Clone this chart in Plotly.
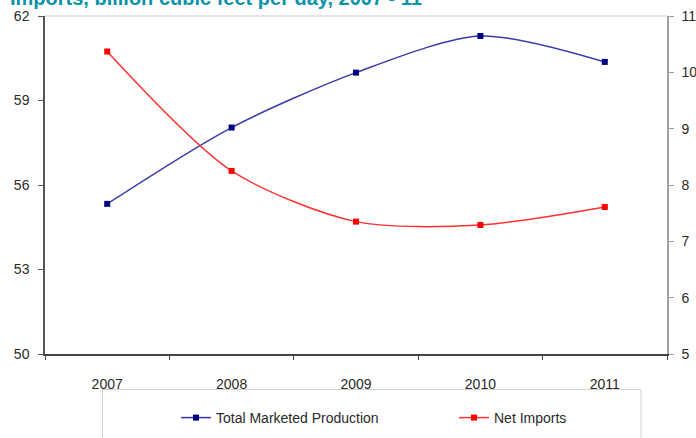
import plotly.graph_objects as go

years = ["2007", "2008", "2009", "2010", "2011"]
production = [55.33, 58.04, 59.99, 61.29, 60.37]
net_imports = [10.37, 8.25, 7.35, 7.29, 7.61]
left_ticks = [50, 53, 56, 59, 62]
right_ticks = [5, 6, 7, 8, 9, 10, 11]
title_text = "Imports, billion cubic feet per day, 2007 - 11"

W, H = 696, 438
ML, MR, MT, MB = 45, 29, 16, 84
PW, PH = W - ML - MR, H - MT - MB

def px_x(p):
    return (p - ML) / PW

def px_y(p):
    return (H - MB - p) / PH

FONT = "Liberation Sans, Arial, sans-serif"
TXT = "#2a2a2a"

fig = go.Figure()
fig.add_trace(go.Scatter(
    x=years, y=production, name="Total Marketed Production",
    mode="lines+markers",
    line=dict(color="#3a3aa8", width=1.5, shape="spline", smoothing=0.8),
    marker=dict(symbol="square", size=6, color="#000080"),
    yaxis="y", legend="legend",
))
fig.add_trace(go.Scatter(
    x=years, y=net_imports, name="Net Imports",
    mode="lines+markers",
    line=dict(color="#ff3030", width=1.5, shape="spline", smoothing=0.8),
    marker=dict(symbol="square", size=6, color="#ff0000"),
    yaxis="y2", legend="legend2",
))

leg_common = dict(
    xanchor="left", yanchor="top",
    bgcolor="rgba(0,0,0,0)", borderwidth=0,
    font=dict(family=FONT, size=14, color=TXT),
)

fig.update_layout(
    width=W, height=H,
    margin=dict(l=ML, r=MR, t=MT, b=MB, autoexpand=False),
    paper_bgcolor="white", plot_bgcolor="white",
    font=dict(family=FONT, size=14, color=TXT),
    showlegend=True,
    xaxis=dict(
        type="category", range=[-0.5, 4.5],
        showgrid=False, zeroline=False,
        showline=True, linecolor="#444444", linewidth=1.5,
        ticks="outside", ticklen=4, tickcolor="#444444", tickson="boundaries",
        ticklabelstandoff=16,
    ),
    yaxis=dict(
        range=[50, 62], tickvals=left_ticks,
        showgrid=False, zeroline=False,
        showline=True, linecolor="#555555", linewidth=1.5,
        ticks="outside", ticklen=5, tickcolor="#555555",
        ticklabelstandoff=6,
    ),
    yaxis2=dict(
        range=[5, 11], tickvals=right_ticks, overlaying="y", side="right",
        showgrid=False, zeroline=False,
        showline=True, linecolor="#a0a0a0", linewidth=1.5,
        ticks="outside", ticklen=5, tickcolor="#a0a0a0",
        ticklabelstandoff=5,
    ),
    legend=dict(x=px_x(176), y=px_y(402), **leg_common),
    legend2=dict(x=px_x(454), y=px_y(402), **leg_common),
    shapes=[
        dict(type="line", xref="paper", yref="paper", x0=0, x1=1, y0=1, y1=1,
             line=dict(color="#cccccc", width=1.2), layer="above"),
        dict(type="rect", xref="paper", yref="paper",
             x0=px_x(102.5), x1=px_x(641), y0=px_y(389.5), y1=px_y(445),
             line=dict(color="#d4d4d4", width=1), fillcolor="white", layer="above"),
    ],
    annotations=[
        dict(text="<b>" + title_text + "</b>", xref="paper", yref="paper",
             x=px_x(8), y=px_y(11), xanchor="left", yanchor="bottom",
             showarrow=False,
             font=dict(family="Liberation Sans, Arial, sans-serif", size=20, color="#0a93a8")),
    ],
)

fig.write_html("out.html")
